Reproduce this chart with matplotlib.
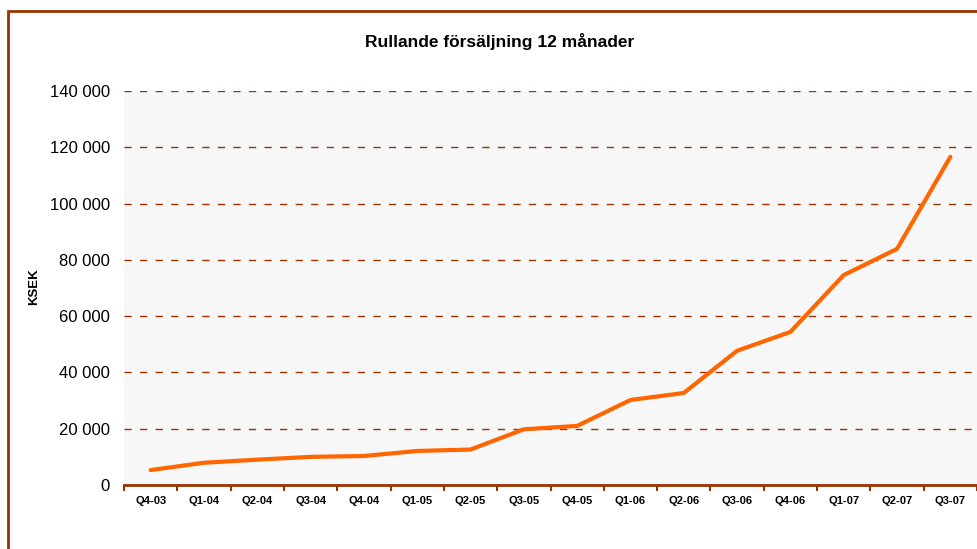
import numpy as np
import matplotlib.pyplot as plt
from matplotlib.patches import Rectangle
from matplotlib.ticker import FuncFormatter

plt.rcParams['font.family'] = ['Liberation Sans', 'DejaVu Sans']

# rolling 12 month sales, KSEK
quarters = ['Q4-03', 'Q1-04', 'Q2-04', 'Q3-04', 'Q4-04', 'Q1-05', 'Q2-05', 'Q3-05',
            'Q4-05', 'Q1-06', 'Q2-06', 'Q3-06', 'Q4-06', 'Q1-07', 'Q2-07', 'Q3-07']
sales = [5300, 7900, 9000, 10000, 10300, 12100, 12600, 19800,
         21000, 30200, 32700, 47700, 54400, 74600, 83900, 116600]

brown = '#993300'

fig = plt.figure(figsize=(9.77, 5.49), dpi=100)
ax = fig.add_axes([124 / 977, 1 - 485 / 549, 853 / 977, 394 / 549])
ax.set_facecolor('#f7f7f7')

x = np.arange(len(quarters))
ax.plot(x, sales, color='#ff6600', lw=3, solid_capstyle='round', zorder=3)

ax.set_xlim(-0.5, len(quarters) - 0.5)
ax.set_ylim(0, 140000)
ax.set_yticks(np.arange(0, 140001, 20000))
ax.yaxis.set_major_formatter(FuncFormatter(lambda v, p: f'{int(v):,}'.replace(',', ' ')))
ax.tick_params(axis='y', length=0, pad=10, labelsize=12)

ax.set_xticks(x)
ax.set_xticklabels(quarters, fontsize=8, fontweight='bold')
ax.set_xticks(np.arange(-0.5, len(quarters), 1), minor=True)
ax.tick_params(axis='x', which='major', length=0, pad=8)
ax.tick_params(axis='x', which='minor', length=4, width=1.5, color=brown, direction='out')

for yv in np.arange(20000, 140001, 20000):
    ax.axhline(yv, color=brown, lw=1, dashes=(5.2, 6), zorder=1)

for s in ['left', 'right', 'top']:
    ax.spines[s].set_visible(False)
ax.spines['bottom'].set_color(brown)
ax.spines['bottom'].set_linewidth(2)

ax.set_ylabel('KSEK', fontsize=9.5, fontweight='bold', labelpad=0)
ax.yaxis.set_label_coords(-(124 - 40) / 853, (485 - 287) / 394)

fig.text(500 / 977, 1 - 42 / 549, 'Rullande försäljning 12 månader',
         ha='center', va='center', fontsize=12.5, fontweight='bold')

# outer frame (runs off the right and bottom edges)
fig.patches.append(Rectangle((8 / 977, -0.1), 1.2, 1.1 - 11 / 549, transform=fig.transFigure,
                             fill=False, edgecolor=brown, lw=2, clip_on=False))

fig.savefig('out.png', dpi=100)
